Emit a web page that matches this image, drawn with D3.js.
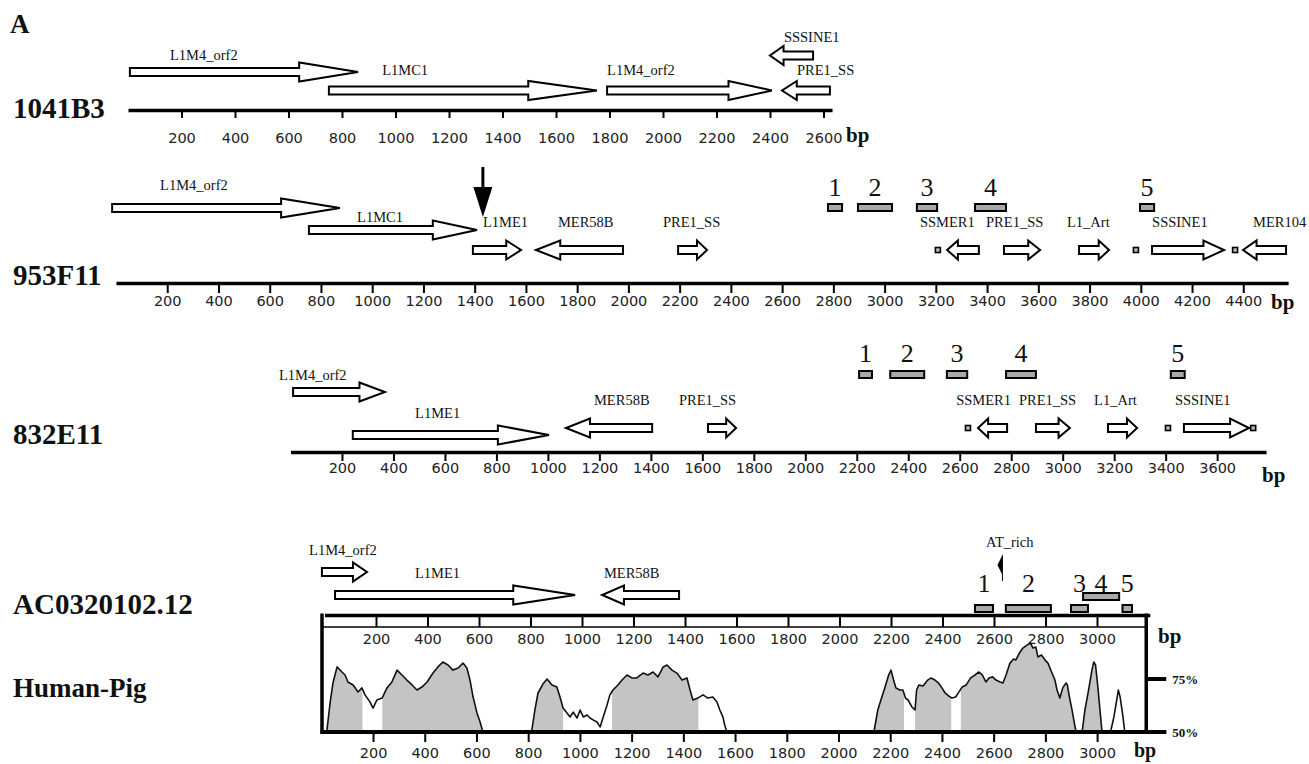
<!DOCTYPE html>
<html><head><meta charset="utf-8">
<script src="https://cdn.jsdelivr.net/npm/d3@7"></script>
<style>body{margin:0;background:#fff}</style>
</head><body>
<svg id="c" width="1309" height="764" xmlns="http://www.w3.org/2000/svg"></svg>
<script>
// ================= DATA =================
const panelLetter = "A";
const trackNames = ["1041B3", "953F11", "832E11", "AC0320102.12"];
const plotName = "Human-Pig";
const unitLabel = "bp";
const trackLengths = [2632, 4575, 3790, 3205];
const plotLength = 3190;

const ticks1041B3 = [200,400,600,800,1000,1200,1400,1600,1800,2000,2200,2400,2600];
const ticks953F11 = [200,400,600,800,1000,1200,1400,1600,1800,2000,2200,2400,2600,2800,3000,3200,3400,3600,3800,4000,4200,4400];
const ticks832E11 = [200,400,600,800,1000,1200,1400,1600,1800,2000,2200,2400,2600,2800,3000,3200,3400,3600];
const ticksAC = [200,400,600,800,1000,1200,1400,1600,1800,2000,2200,2400,2600,2800,3000];
const ticksPlot = [200,400,600,800,1000,1200,1400,1600,1800,2000,2200,2400,2600,2800,3000];
const pctTicks = [50, 75];
const pctLabels = ["50%", "75%"];

// repeat elements: [name, start bp, end bp, strand, lane, label bp, label level]
const feat1041B3 = [
  ["L1M4_orf2", 7, 860, 1, 1, 157, 1],
  ["L1MC1", 751, 1753, 1, 0, 950, 0],
  ["L1M4_orf2", 1791, 2407, 1, 0, 1791, 0],
  ["SSSINE1", 2400, 2561, -1, 2, 2452, 2],
  ["PRE1_SS", 2445, 2624, -1, 0, 2501, 0]
];
const feat953F11 = [
  ["L1M4_orf2", -15, 874, 1, 2, 172, 2],
  ["L1MC1", 753, 1409, 1, 1, 941, 1],
  ["L1ME1", 1393, 1581, 1, 0, 1432, 0],
  ["MER58B", 1639, 1979, -1, 0, 1725, 0],
  ["PRE1_SS", 2194, 2307, 1, 0, 2135, 0],
  ["SSMER1", 3244, 3368, -1, 0, 3138, 0],
  ["PRE1_SS", 3466, 3607, 1, 0, 3396, 0],
  ["L1_Art", 3759, 3876, 1, 0, 3712, 0],
  ["SSSINE1", 4044, 4325, 1, 0, 4044, 0],
  ["MER104", 4399, 4567, -1, 0, 4438, 0]
];
const feat832E11 = [
  ["L1M4_orf2", 10, 367, 1, 2, -45, 2],
  ["L1ME1", 242, 1004, 1, 1, 484, 1],
  ["MER58B", 1070, 1405, -1, 0, 1179, 0],
  ["PRE1_SS", 1622, 1731, 1, 0, 1509, 0],
  ["SSMER1", 2671, 2784, -1, 0, 2586, 0],
  ["PRE1_SS", 2896, 3028, 1, 0, 2830, 0],
  ["L1_Art", 3176, 3289, 1, 0, 3122, 0],
  ["SSSINE1", 3471, 3724, 1, 0, 3436, 0]
];
const featAC = [
  ["L1M4_orf2", -10, 165, 1, 1, -60, 1],
  ["L1ME1", 41, 973, 1, 0, 351, 0],
  ["MER58B", 1078, 1377, -1, 0, 1085, 0]
];
// tiny elements (bp)
const dots953F11 = [3208, 3981, 4368];
const dots832E11 = [2632, 3409, 3740];
// conserved blocks: [number, start, end, row]
const blocks953F11 = [[1,2779,2834,0],[2,2896,3029,0],[3,3126,3205,0],[4,3353,3474,0],[5,3997,4052,0]];
const blocks832E11 = [[1,2209,2259,0],[2,2330,2462,0],[3,2550,2629,0],[4,2780,2896,0],[5,3420,3474,0]];
const blocksAC = [[1,2526,2596,0],[2,2646,2821,0],[3,2899,2965,0],[4,2946,3086,1],[5,3099,3136,0]];
// markers
const arrowMark953F11 = [1432];
const atRich = [["AT_rich", 2627, 2569]];

// Human-Pig conservation (% identity) segments: [bp, %]
const consSegments = [
  [[21,50],[34,63.7],[45,73.1],[61,80.7],[80,78.3],[92,76.9],[103,73.6],[123,72.2],[142,68.9],[157,70.8],[169,67.5],[188,64.2],[200,61.3],[215,65.1],[235,66],[254,70.8],[273,73.6],[293,79.2],[312,76.9],[331,74.5],[351,72.2],[370,69.8],[389,71.2],[409,73.6],[432,77.8],[451,80.7],[470,83],[490,81.6],[509,79.2],[529,80.2],[548,82.5],[563,80.2],[575,74.5],[587,66.5],[602,59],[614,54.7],[625,50]],
  [[813,50],[826,60.4],[838,68.4],[857,72.6],[873,75],[892,72.2],[911,71.2],[923,66.5],[935,61.3],[950,59],[962,57.1],[974,59.4],[989,56.6],[1001,60.4],[1013,57.1],[1028,58],[1039,56.6],[1051,55.7],[1066,54.7],[1078,52.4],[1089,56.6],[1105,62.7],[1116,67.5],[1128,69.8],[1147,72.2],[1163,74.5],[1182,76.9],[1201,75.5],[1220,75.5],[1244,77.8],[1263,76.9],[1283,78.3],[1302,76],[1322,80.7],[1337,81.6],[1356,79.2],[1375,77.8],[1395,74.5],[1414,75.5],[1426,69.8],[1437,65.1],[1456,66],[1476,67.5],[1495,66],[1514,66.5],[1530,64.2],[1541,60.4],[1553,57.1],[1560,53.3],[1568,50]],
  [[2137,50],[2152,60.4],[2164,65.1],[2180,71.2],[2194,76.9],[2203,79.2],[2213,74.5],[2222,70.8],[2237,69.8],[2249,69.8],[2259,66],[2269,65.1],[2284,61.8],[2296,60.4],[2302,69.8],[2311,72.2],[2327,71.7],[2345,74.5],[2358,75.5],[2373,74.5],[2387,73.1],[2400,70.8],[2412,68.4],[2426,67],[2439,66],[2453,66.5],[2466,68.9],[2478,71.2],[2494,72.2],[2511,75.5],[2528,76.9],[2543,78.3],[2556,76.9],[2570,73.6],[2582,75.5],[2596,76],[2609,74.5],[2625,73.6],[2636,73.1],[2648,76.9],[2663,82.5],[2677,84.4],[2686,84],[2700,87.3],[2713,89.6],[2729,91],[2742,92],[2752,89.6],[2763,90.1],[2771,85.4],[2785,86.3],[2798,84],[2810,82.5],[2824,78.3],[2837,74.5],[2845,69.8],[2856,66],[2867,70.8],[2880,73.1],[2885,72.2],[2893,66.5],[2903,60.4],[2912,54.2],[2919,50]],
  [[2942,50],[2953,60.4],[2967,69.8],[2980,79.2],[2987,83],[2994,81.6],[3003,71.2],[3010,61.8],[3019,50]],
  [[3052,50],[3065,57.1],[3076,65.1],[3082,69.8],[3089,66.5],[3098,59],[3107,50]]
];
const conservedRegions = [[21,159],[236,625],[813,935],[1124,1458],[2137,2253],[2296,2436],[2473,2915],[2940,3018]];

// ================= LAYOUT =================
const layouts = [
  {x0:128, k:0.2675, axisY:110, tick:8, labY:33, lanes:[90.5,72,55.5], labelY:[75,60,42], nameY:118, bpX:846, bpY:142},
  {x0:116, k:0.2562, axisY:283, tick:10, labY:23, lanes:[250,230,208], labelY:[227,222,190], nameY:285, bpX:1271, bpY:309, boxTops:[203], numY:196},
  {x0:290.5, k:0.2574, axisY:452, tick:9, labY:21, lanes:[428,435,392], labelY:[405,418,380], nameY:444, bpX:1262, bpY:482, boxTops:[370], numY:362},
  {x0:324.5, k:0.2575, axisY:615, tick:12, labY:29, lanes:[595,572], labelY:[578,555,547], nameY:614, bpX:1158, bpY:643, boxTops:[604,592], numY:592}
];
const SERIF = "'Liberation Serif','Times New Roman',serif";
const SANS = "'DejaVu Sans',Verdana,sans-serif";
const INK = "#111";
const TICKFONT = 14.5;
const LABFONT = 14.5;

const svg = d3.select("#c");

svg.append("text").attr("x", 10).attr("y", 33).text(panelLetter)
  .attr("font-family", SERIF).attr("font-weight", "bold").attr("font-size", 27).attr("fill", INK);

function arrowPath(tail, tip, y) {
  const len = Math.abs(tip - tail), s = tip > tail ? 1 : -1;
  const h = Math.min(0.245 * len + 3, len * 0.7);
  const hb = tip - s * h, bh = 4, hh = 9.5;
  return `M${tail},${y-bh}L${hb},${y-bh}L${hb},${y-hh}L${tip},${y}L${hb},${y+hh}L${hb},${y+bh}L${tail},${y+bh}Z`;
}

function drawTrack(i, ticks, feats, blocks, dots) {
  const L = layouts[i];
  const x = d3.scaleLinear().domain([0, trackLengths[i]]).range([L.x0, L.x0 + trackLengths[i] * L.k]);
  svg.append("text").attr("x", 13).attr("y", L.nameY).text(trackNames[i])
    .attr("font-family", SERIF).attr("font-weight", "bold").attr("font-size", 29).attr("fill", INK);
  const g = svg.append("g").attr("transform", `translate(0,${L.axisY})`)
    .call(d3.axisBottom(x).tickValues(ticks).tickSizeInner(L.tick).tickSizeOuter(0).tickFormat(d3.format("d")));
  g.attr("font-family", SANS).attr("font-size", TICKFONT);
  g.select(".domain").attr("stroke", "#000").attr("stroke-width", 3.5);
  g.selectAll(".tick line").attr("stroke", "#000").attr("stroke-width", 2);
  g.selectAll(".tick text").attr("y", L.labY).attr("dy", null).attr("fill", "#222");
  svg.append("text").attr("x", L.bpX).attr("y", L.bpY).text(unitLabel)
    .attr("font-family", SERIF).attr("font-weight", "bold").attr("font-size", 21).attr("fill", INK);
  const fg = svg.append("g");
  fg.selectAll("path.rep").data(feats).join("path").attr("class", "rep")
    .attr("d", d => d[3] > 0 ? arrowPath(x(d[1]), x(d[2]), L.lanes[d[4]]) : arrowPath(x(d[2]), x(d[1]), L.lanes[d[4]]))
    .attr("fill", "#fff").attr("stroke", "#000").attr("stroke-width", 2).attr("stroke-linejoin", "miter");
  fg.selectAll("text.lab").data(feats).join("text").attr("class", "lab")
    .attr("x", d => x(d[5])).attr("y", d => L.labelY[d[6]]).text(d => d[0])
    .attr("font-family", SERIF).attr("font-size", LABFONT).attr("fill", INK);
  if (dots) {
    fg.selectAll("rect.dot").data(dots).join("rect").attr("class", "dot")
      .attr("x", d => x(d) - 2.5).attr("y", L.lanes[0] - 2.5).attr("width", 5).attr("height", 5)
      .attr("fill", "#bbb").attr("stroke", "#000").attr("stroke-width", 1.6);
  }
  if (blocks) {
    fg.selectAll("rect.blk").data(blocks).join("rect").attr("class", "blk")
      .attr("x", d => x(d[1])).attr("y", d => L.boxTops[d[3]] + 1)
      .attr("width", d => x(d[2]) - x(d[1])).attr("height", 7)
      .attr("fill", "#a9a9a9").attr("stroke", "#000").attr("stroke-width", 2);
    fg.selectAll("text.num").data(blocks).join("text").attr("class", "num")
      .attr("x", d => (x(d[1]) + x(d[2])) / 2).attr("y", L.numY).attr("text-anchor", "middle").text(d => d[0])
      .attr("font-family", SERIF).attr("font-size", 26).attr("fill", INK);
  }
  return x;
}

drawTrack(0, ticks1041B3, feat1041B3, null, null);
const x953 = drawTrack(1, ticks953F11, feat953F11, blocks953F11, dots953F11);
drawTrack(2, ticks832E11, feat832E11, blocks832E11, dots832E11);
const xAC = drawTrack(3, ticksAC, featAC, blocksAC, null);

arrowMark953F11.forEach(b => {
  const cx = x953(b);
  svg.append("line").attr("x1", cx).attr("x2", cx).attr("y1", 167).attr("y2", 190).attr("stroke", "#000").attr("stroke-width", 3);
  svg.append("path").attr("d", `M${cx-9.5},187L${cx+9.5},187L${cx},217Z`).attr("fill", "#000");
});
atRich.forEach(d => {
  const cx = xAC(d[1]);
  svg.append("path").attr("d", `M${cx-3.5},565L${cx+2},554L${cx+2},576Z`).attr("fill", "#000");
  svg.append("line").attr("x1", cx + 1.5).attr("x2", cx + 1.5).attr("y1", 574).attr("y2", 581).attr("stroke", "#000").attr("stroke-width", 1);
  svg.append("text").attr("x", xAC(d[2])).attr("y", layouts[3].labelY[2]).text(d[0])
    .attr("font-family", SERIF).attr("font-size", LABFONT).attr("fill", INK);
});

// ================= Human-Pig plot =================
const hx = d3.scaleLinear().domain([0, plotLength]).range([321.3, 321.3 + plotLength * 0.2586]);
const hy = d3.scaleLinear().domain([50, 100]).range([732, 626]);

svg.append("text").attr("x", 13).attr("y", 697).text(plotName)
  .attr("font-family", SERIF).attr("font-weight", "bold").attr("font-size", 27).attr("fill", INK);

const clip = svg.append("defs").append("clipPath").attr("id", "cons");
clip.selectAll("rect").data(conservedRegions).join("rect")
  .attr("x", d => hx(d[0])).attr("width", d => hx(d[1]) - hx(d[0]))
  .attr("y", hy(100)).attr("height", hy(50) - hy(100));

const area = d3.area().x(d => hx(d[0])).y0(hy(50)).y1(d => hy(d[1]));
const line = d3.line().x(d => hx(d[0])).y(d => hy(d[1]));
svg.append("g").attr("clip-path", "url(#cons)").selectAll("path").data(consSegments).join("path")
  .attr("d", area).attr("fill", "#c4c4c4");
svg.append("g").selectAll("path").data(consSegments).join("path")
  .attr("d", line).attr("fill", "none").attr("stroke", "#111").attr("stroke-width", 1.6).attr("stroke-linejoin", "round");

const xr = hx(plotLength);
svg.append("line").attr("x1", 322).attr("x2", xr).attr("y1", 627).attr("y2", 627).attr("stroke", "#000").attr("stroke-width", 1.3);
svg.append("line").attr("x1", 322).attr("x2", 322).attr("y1", 613.5).attr("y2", 734).attr("stroke", "#000").attr("stroke-width", 3.5);
svg.append("line").attr("x1", xr).attr("x2", xr).attr("y1", 613.5).attr("y2", 734).attr("stroke", "#000").attr("stroke-width", 3.5);

const hg = svg.append("g").attr("transform", `translate(0,${hy(50)})`)
  .call(d3.axisBottom(hx).tickValues(ticksPlot).tickSizeInner(10).tickSizeOuter(0).tickFormat(d3.format("d")));
hg.attr("font-family", SANS).attr("font-size", TICKFONT);
hg.select(".domain").remove();
hg.selectAll(".tick line").attr("stroke", "#000").attr("stroke-width", 2);
hg.selectAll(".tick text").attr("y", 26).attr("dy", null).attr("fill", "#222");
svg.append("line").attr("x1", 320.5).attr("x2", xr + 20).attr("y1", hy(50)).attr("y2", hy(50)).attr("stroke", "#000").attr("stroke-width", 4);
svg.append("text").attr("x", 1134).attr("y", 757).text(unitLabel)
  .attr("font-family", SERIF).attr("font-weight", "bold").attr("font-size", 20).attr("fill", INK);

svg.append("g").selectAll("line").data(pctTicks).join("line")
  .attr("x1", xr).attr("x2", xr + 20).attr("y1", d => hy(d)).attr("y2", d => hy(d))
  .attr("stroke", "#000").attr("stroke-width", 4);
svg.append("g").selectAll("text").data(pctTicks).join("text")
  .attr("x", xr + 26).attr("y", d => hy(d) + 5).text((d, i) => pctLabels[i])
  .attr("font-family", SERIF).attr("font-weight", "bold").attr("font-size", 13).attr("fill", INK);
</script>
</body></html>
